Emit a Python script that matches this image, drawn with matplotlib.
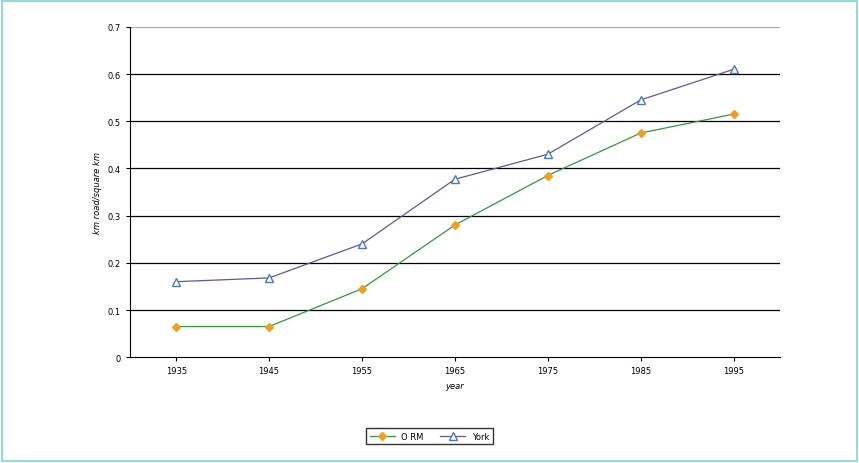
import matplotlib
matplotlib.use("Agg")
import matplotlib.pyplot as plt
from matplotlib.patches import Rectangle

years = ["1935", "1945", "1955", "1965", "1975", "1985", "1995"]
orm = [0.065, 0.065, 0.145, 0.28, 0.385, 0.475, 0.515]
york = [0.16, 0.168, 0.24, 0.377, 0.43, 0.545, 0.61]

fig = plt.figure(figsize=(8.59, 4.64), dpi=100)
fig.patches.append(Rectangle((0.002, 0.004), 0.996, 0.992, transform=fig.transFigure,
                             fill=False, edgecolor="#7fd3e0", linewidth=1.2))
ax = fig.add_axes([0.151, 0.228, 0.757, 0.712])
x = list(range(len(years)))
ax.plot(x, orm, color="#2e9a3a", lw=0.9, marker="D", ms=4, mfc="#f0a020", mec="#f0a020", label="O RM")
ax.plot(x, york, color="#5a5a9a", lw=0.9, marker="^", ms=6, mfc="white", mec="#4a7ab0", label="York")
ax.set_xlim(-0.5, 6.5)
ax.set_ylim(0, 0.7)
ax.set_xticks(x)
ax.set_xticklabels(years, fontsize=6)
ax.set_yticks([0, 0.1, 0.2, 0.3, 0.4, 0.5, 0.6, 0.7])
ax.set_yticklabels(["0", "0.1", "0.2", "0.3", "0.4", "0.5", "0.6", "0.7"], fontsize=6)
for y in [0.1, 0.2, 0.3, 0.4, 0.5, 0.6]:
    ax.axhline(y, color="black", lw=0.9, zorder=0)
ax.axhline(0.7, color="#aaaaaa", lw=0.9, zorder=0)
for s in ["top", "right"]:
    ax.spines[s].set_visible(False)
ax.tick_params(length=3, width=0.8)
ax.set_xlabel("year", fontsize=6, style="italic")
ax.set_ylabel("km road/square km", fontsize=6, style="italic")
fig.legend(loc="center", bbox_to_anchor=(0.5, 0.058), ncol=2, fontsize=6,
           frameon=True, fancybox=False, edgecolor="black", handlelength=3)
fig.savefig("out.png", dpi=100)
